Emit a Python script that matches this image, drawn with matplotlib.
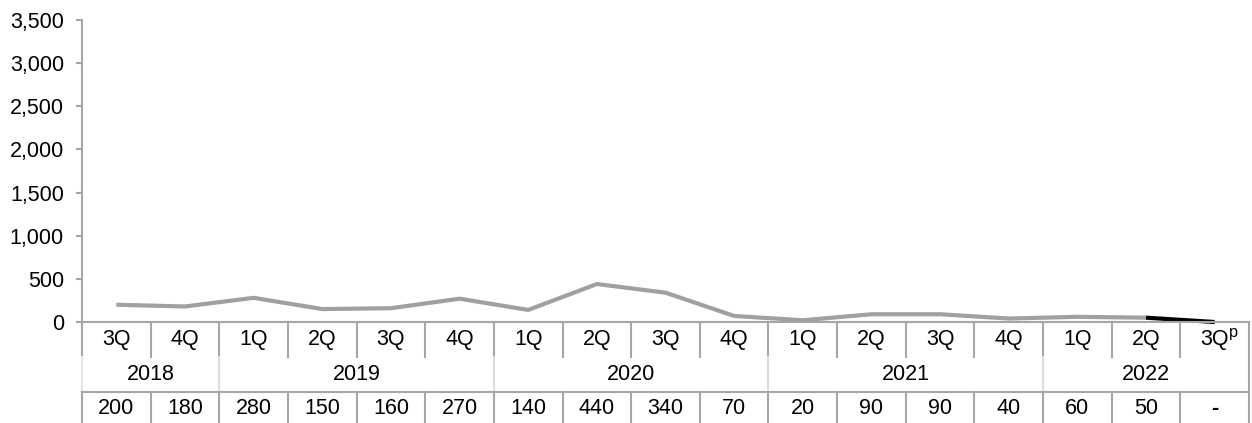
import matplotlib
matplotlib.use("Agg")
import matplotlib.pyplot as plt
from matplotlib.lines import Line2D

plt.rcParams['font.family'] = ['Liberation Sans', 'DejaVu Sans']

quarters = ["3Q", "4Q", "1Q", "2Q", "3Q", "4Q", "1Q", "2Q", "3Q", "4Q",
            "1Q", "2Q", "3Q", "4Q", "1Q", "2Q", "3Q"]
years = ["2018", "2019", "2020", "2021", "2022"]
year_spans = [2, 4, 4, 4, 3]
values = [200, 180, 280, 150, 160, 270, 140, 440, 340, 70,
          20, 90, 90, 40, 60, 50, 0]
preliminary = [False] * 16 + [True]
y_ticks = [0, 500, 1000, 1500, 2000, 2500, 3000, 3500]

W, H = 1252, 423
fig = plt.figure(figsize=(W / 100, H / 100), dpi=100)
x0, x1, ytop, ybot = 82, 1249, 20, 322
ax = fig.add_axes([x0 / W, (H - ybot) / H, (x1 - x0) / W, (ybot - ytop) / H])

n = len(values)
xs = [i + 0.5 for i in range(n)]
grid_c = "#a6a6a6"
fs = 15.5

# final (preliminary) segment drawn in black
split = preliminary.index(True) - 1
ax.plot(xs[:split + 1], values[:split + 1], color="#a0a0a0", lw=3,
        solid_joinstyle="round", solid_capstyle="butt", clip_on=False)
ax.plot(xs[split:], values[split:], color="black", lw=3,
        solid_capstyle="butt", clip_on=False)

ax.set_xlim(0, n)
ax.set_ylim(0, 3500)
ax.set_yticks(y_ticks)
ax.set_yticklabels([f"{v:,}" for v in y_ticks], fontsize=fs)
ax.set_xticks([])
for s in ("top", "right"):
    ax.spines[s].set_visible(False)
for s in ("left", "bottom"):
    ax.spines[s].set_color(grid_c)
    ax.spines[s].set_linewidth(1.5)
ax.tick_params(axis="y", length=4, width=1.5, color=grid_c, pad=9)

# table under the axis
tr = ax.get_xaxis_transform()
ph = ybot - ytop
r = 35 / ph  # row height in axes fraction
row_mid = [-17.5 / ph, -52.5 / ph, -86 / ph]
bottom = -(H - ybot) / ph


def seg(xa, xb, ya, yb, c=grid_c):
    ax.add_line(Line2D([xa, xb], [ya, yb], transform=tr, color=c, lw=1.5,
                       clip_on=False))


# outer verticals
seg(0, 0, 0, -r)
seg(0, 0, -r, -2 * r, c="#e4e4e4")
seg(0, 0, -2 * r, bottom)
seg(n, n, 0, bottom)
# quarter separators
for i in range(1, n):
    seg(i, i, 0, -r)
    seg(i, i, -2 * r, bottom)
# year separators
pos = 0
for span in year_spans[:-1]:
    pos += span
    seg(pos, pos, -r, -2 * r, c="#dcdcdc")
seg(0, n, -2 * r, -2 * r)

for i, q in enumerate(quarters):
    ax.text(xs[i], row_mid[0], q, transform=tr, ha="center",
            va="center", fontsize=fs)
    if preliminary[i]:
        ax.annotate("p", xy=(xs[i], row_mid[0]), xycoords=tr,
                    xytext=(10.5, -0.5), textcoords="offset points",
                    ha="left", va="bottom", fontsize=fs * 0.75)
pos = 0
for y, span in zip(years, year_spans):
    ax.text(pos + span / 2, row_mid[1], y, transform=tr, ha="center",
            va="center", fontsize=fs)
    pos += span
for i, v in enumerate(values):
    label = "-" if preliminary[i] else f"{v:,}"
    ax.text(xs[i], row_mid[2], label, transform=tr, ha="center",
            va="center", fontsize=fs,
            fontweight="bold" if preliminary[i] else "normal")

fig.savefig("out.png", dpi=100)
